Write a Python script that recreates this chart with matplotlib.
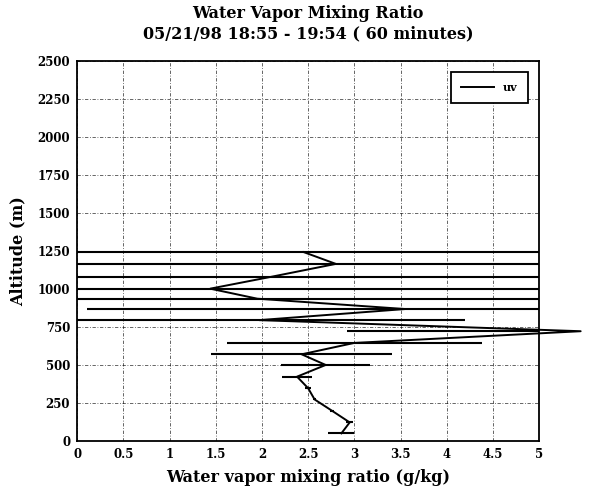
import numpy as np
import matplotlib
matplotlib.use("Agg")
import matplotlib.pyplot as plt
from matplotlib.ticker import FixedLocator, FuncFormatter

# profile data
altitude = [50, 122, 198, 273, 347, 423, 500, 570, 645, 722, 795, 868, 936, 1002, 1080, 1165, 1243]
mixing_ratio = [2.86, 2.95, 2.76, 2.57, 2.50, 2.38, 2.69, 2.43, 3.00, 5.45, 1.97, 3.55, 1.95, 1.44, 2.10, 2.80, 2.45]
ratio_err = [0.14, 0.04, 0.02, 0.02, 0.03, 0.16, 0.48, 0.98, 1.38, 2.53, 2.23, 3.44, 3.60, 4.20, 3.50, 3.40, 3.20]
series_label = "uv"

x_ticks = [0, 0.5, 1, 1.5, 2, 2.5, 3, 3.5, 4, 4.5, 5]
y_ticks = [0, 250, 500, 750, 1000, 1250, 1500, 1750, 2000, 2250, 2500]

SERIF = "DejaVu Serif"

fig = plt.figure(figsize=(6.03, 4.96), dpi=100)
ax = fig.add_axes([0.128, 0.111, 0.766, 0.766])

# 误差棒（裁剪在坐标框内）
ax.errorbar(mixing_ratio, altitude, xerr=ratio_err, fmt="none",
            ecolor="black", elinewidth=1.5, capsize=0, zorder=3)
# 廓线本身不裁剪，峰值会伸出右边框
ax.plot(mixing_ratio, altitude, color="black", lw=1.4, clip_on=False,
        label=series_label, zorder=4)

ax.set_xlim(0, 5)
ax.set_ylim(0, 2500)
ax.xaxis.set_major_locator(FixedLocator(x_ticks))
ax.yaxis.set_major_locator(FixedLocator(y_ticks))
ax.xaxis.set_major_formatter(FuncFormatter(lambda v, p: f"{v:g}"))
ax.yaxis.set_major_formatter(FuncFormatter(lambda v, p: f"{v:g}"))

ax.grid(True, color="black", lw=0.6, linestyle=(0, (4, 2, 1, 2)), alpha=0.7)
ax.tick_params(length=0, pad=5)
for lab in ax.get_xticklabels() + ax.get_yticklabels():
    lab.set_fontfamily(SERIF)
    lab.set_fontweight("bold")
    lab.set_fontsize(8.5)

for sp in ax.spines.values():
    sp.set_linewidth(1.3)

ax.set_xlabel("Water vapor mixing ratio (g/kg)", fontfamily=SERIF,
              fontweight="bold", fontsize=11.5, labelpad=6)
ax.set_ylabel("Altitude (m)", fontfamily=SERIF, fontweight="bold",
              fontsize=11.5, labelpad=8)

fig.text(0.511, 0.972, "Water Vapor Mixing Ratio", ha="center", va="center",
         fontfamily=SERIF, fontweight="bold", fontsize=11.5)
fig.text(0.511, 0.932, "05/21/98 18:55 - 19:54 ( 60 minutes)", ha="center",
         va="center", fontfamily=SERIF, fontweight="bold", fontsize=11.5)

leg = ax.legend(loc="upper right", bbox_to_anchor=(0.975, 0.972),
                prop={"family": SERIF, "weight": "bold", "size": 8},
                fancybox=False, framealpha=1, edgecolor="black",
                handlelength=3.0, borderpad=0.9, borderaxespad=0)
leg.get_frame().set_linewidth(1.3)

fig.savefig("out.png", dpi=100)
